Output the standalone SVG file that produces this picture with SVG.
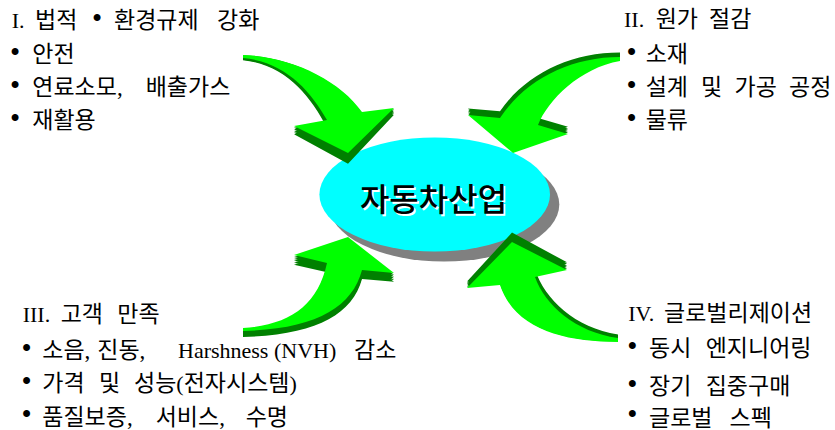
<svg xmlns="http://www.w3.org/2000/svg" width="835" height="430" viewBox="0 0 835 430">
<style>
.g{fill:#00ff00}
.d{fill:#008000}
text{font-family:'Liberation Serif','Noto Sans CJK KR',serif;font-size:23px;fill:#000}
.l{font-size:22px}
.b{font-size:29px}
.c{font-family:'Noto Sans CJK KR','Liberation Sans',sans-serif;font-size:32px;font-weight:500}
</style>
<defs>
<path id="a1" d="M243,55 C290,56 340,80 362,112 L394,108 L348,153 L294,126 L327,120 C310,90 285,62 243,58 Z"/>
<path id="a2" d="M620,57 C570,57 525,80 500,118 L468,115 L513,153 L568,134 L538,125 C548,100 580,68 620,61 Z"/>
<path id="a3" d="M243,328 C290,325 318,305 327,263 L294,255 L348,237 L394,273 L362,270 C352,308 315,329 243,331 Z"/>
<path id="a4" d="M618,338 C575,332 545,305 535,277 L567,270 L512,242 L467,288 L500,285 C515,330 565,342 618,342 Z"/>
</defs>
<rect width="835" height="430" fill="#fff"/>
<g id="center">
<ellipse cx="444" cy="204.5" rx="115.3" ry="57" fill="#808080"/>
<ellipse cx="434.7" cy="194.5" rx="115.3" ry="57" fill="#00ffff"/>
<text class="c" x="435" y="212.5" text-anchor="middle" style="fill:#fff">자동차산업</text>
<text class="c" x="433.5" y="211" text-anchor="middle">자동차산업</text>
</g>
<g id="connectors">
<g id="arrow1">
<use href="#a1" class="d" transform="matrix(1,0,0,1.018,0,-0.61)"/>
<use href="#a1" class="d" transform="matrix(1,0,0,1.036,0,-1.22)"/>
<use href="#a1" class="d" transform="matrix(1,0,0,1.054,0,-1.82)"/>
<use href="#a1" class="d" transform="matrix(1,0,0,1.072,0,-2.43)"/>
<use href="#a1" class="d" transform="matrix(1,0,0,1.09,0,-3.04)"/>
<use href="#a1" class="g"/>
</g>
<g id="arrow2">
<use href="#a2" class="d" transform="matrix(1,0,0,0.993,0,-0.51)"/>
<use href="#a2" class="d" transform="matrix(1,0,0,0.986,0,-1.01)"/>
<use href="#a2" class="d" transform="matrix(1,0,0,0.979,0,-1.52)"/>
<use href="#a2" class="d" transform="matrix(1,0,0,0.972,0,-2.03)"/>
<use href="#a2" class="d" transform="matrix(1,0,0,0.965,0,-2.535)"/>
<use href="#a2" class="g"/>
</g>
<g id="arrow3">
<use href="#a3" class="d" transform="matrix(1,0,0,0.99,0,4.5)"/>
<use href="#a3" class="d" transform="matrix(1,0,0,0.98,0,9)"/>
<use href="#a3" class="d" transform="matrix(1,0,0,0.97,0,13.5)"/>
<use href="#a3" class="d" transform="matrix(1,0,0,0.96,0,18)"/>
<use href="#a3" class="d" transform="matrix(1,0,0,0.95,0,22.5)"/>
<use href="#a3" class="g"/>
</g>
<g id="arrow4">
<use href="#a4" class="d" transform="matrix(1,0,0,1.012,0,-4.78)"/>
<use href="#a4" class="d" transform="matrix(1,0,0,1.024,0,-9.56)"/>
<use href="#a4" class="d" transform="matrix(1,0,0,1.036,0,-14.34)"/>
<use href="#a4" class="d" transform="matrix(1,0,0,1.048,0,-19.12)"/>
<use href="#a4" class="d" transform="matrix(1,0,0,1.06,0,-23.9)"/>
<use href="#a4" class="g"/>
</g>
</g>
<g id="legal">
<text y="27.5"><tspan class="l" x="11.7">I.</tspan><tspan x="35">법적</tspan><tspan class="b" x="91.9">•</tspan><tspan x="114">환경규제</tspan><tspan x="217">강화</tspan></text>
<text y="61.5"><tspan class="b" x="9.9">•</tspan><tspan x="32.3">안전</tspan></text>
<text y="95"><tspan class="b" x="9.9">•</tspan><tspan x="32.3">연료소모,</tspan><tspan x="145.7">배출가스</tspan></text>
<text y="128"><tspan class="b" x="9.9">•</tspan><tspan x="32.3">재활용</tspan></text>
</g>
<g id="cost">
<text y="27"><tspan class="l" x="624">II.</tspan><tspan x="655.7">원가</tspan><tspan x="709">절감</tspan></text>
<text y="61.5"><tspan class="b" x="626.6">•</tspan><tspan x="645.7">소재</tspan></text>
<text y="95"><tspan class="b" x="626.6">•</tspan><tspan x="645.7">설계</tspan><tspan x="701">및</tspan><tspan x="734.5">가공</tspan><tspan x="789">공정</tspan></text>
<text y="128"><tspan class="b" x="626.6">•</tspan><tspan x="645.7">물류</tspan></text>
</g>
<g id="customer">
<text y="322"><tspan class="l" x="22.7">III.</tspan><tspan x="60.7">고객</tspan><tspan x="117.3">만족</tspan></text>
<text y="358"><tspan class="b" x="21.6">•</tspan><tspan x="42.3">소음,</tspan><tspan x="97.3">진동,</tspan><tspan class="l" x="178">Harshness</tspan><tspan class="l" x="274">(NVH)</tspan><tspan x="354">감소</tspan></text>
<text y="391"><tspan class="b" x="21.6">•</tspan><tspan x="42.3">가격</tspan><tspan x="99">및</tspan><tspan x="134">성능<tspan class="l">(</tspan>전자시스템<tspan class="l">)</tspan></tspan></text>
<text y="424.5"><tspan class="b" x="21.6" y="423.5">•</tspan><tspan x="42.3" y="424.5">품질보증,</tspan><tspan x="155.7">서비스,</tspan><tspan x="245.7">수명</tspan></text>
</g>
<g id="global">
<text y="320.5"><tspan class="l" x="628.3">IV.</tspan><tspan x="664">글로벌리제이션</tspan></text>
<text y="355.5"><tspan class="b" x="627.2">•</tspan><tspan x="649">동시</tspan><tspan x="705.7">엔지니어링</tspan></text>
<text y="393.5"><tspan class="b" x="627.2">•</tspan><tspan x="649">장기</tspan><tspan x="705.7">집중구매</tspan></text>
<text y="425.5"><tspan class="b" x="627.2" y="423.5">•</tspan><tspan x="649" y="425.5">글로벌</tspan><tspan x="729.5">스펙</tspan></text>
</g>
</svg>
